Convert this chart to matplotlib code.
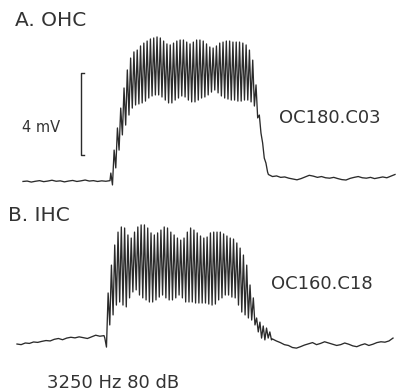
import numpy as np
import matplotlib
matplotlib.use('Agg')
import matplotlib.pyplot as plt

TONE_HZ = 3250
LEVEL_DB = 80

# ---- Trace A: outer hair cell (mV, relative to its resting baseline) ----
ohc_pre = [-0.12, -0.10, -0.15, -0.11, -0.08, -0.13, -0.10, -0.06, -0.11, -0.09, -0.14,
           -0.10, -0.07, -0.12, -0.09, -0.05, -0.10, -0.08, -0.12, -0.09, -0.11, -0.08]
ohc_peaks = [0.29, 1.41, 2.49, 3.46, 4.44, 5.32, 5.90, 6.20, 6.29, 6.49, 6.63, 6.73,
             6.83, 6.88, 6.93, 6.88, 6.73, 6.59, 6.54, 6.63, 6.73, 6.78, 6.78, 6.68,
             6.59, 6.68, 6.78, 6.78, 6.73, 6.59, 6.44, 6.39, 6.49, 6.63, 6.68, 6.73,
             6.73, 6.68, 6.68, 6.68, 6.63, 6.54, 6.29, 5.80, 4.59, 3.12, 1.76, 0.78]
ohc_troughs = [-0.29, 0.54, 1.41, 2.15, 2.63, 3.12, 3.46, 3.61, 3.66, 3.71, 3.80, 3.95,
               4.05, 4.10, 4.10, 4.00, 3.85, 3.71, 3.71, 3.85, 3.95, 4.05, 4.00, 3.85,
               3.76, 3.76, 3.85, 3.95, 4.00, 4.10, 4.24, 4.34, 4.20, 4.05, 3.95, 3.90,
               3.85, 3.85, 3.80, 3.80, 3.85, 3.85, 3.76, 3.56, 2.98, 2.24, 1.02, 0.34]
ohc_post = [0.22, 0.12, 0.15, 0.08, 0.10, 0.04, 0.00, -0.04, 0.02, 0.10, 0.18, 0.14,
            0.08, 0.12, 0.06, 0.04, 0.08, 0.02, -0.03, -0.05, 0.03, 0.08, 0.12, 0.06,
            0.04, 0.08, 0.02, 0.06, 0.10, 0.06, 0.14, 0.22]

# ---- Trace B: inner hair cell ----
ihc_pre = [-0.05, -0.08, 0.00, -0.02, 0.05, 0.03, 0.08, 0.12, 0.10, 0.18, 0.22,
           0.16, 0.24, 0.28, 0.25, 0.30, 0.26, 0.22, 0.30, 0.38, 0.33, 0.36]
ihc_peaks = [0.24, 2.44, 3.80, 4.78, 5.41, 5.66, 5.61, 5.27, 5.12, 5.41, 5.66, 5.76,
             5.76, 5.61, 5.37, 5.27, 5.37, 5.51, 5.66, 5.61, 5.41, 5.27, 5.12, 5.02,
             5.12, 5.41, 5.61, 5.51, 5.37, 5.22, 5.12, 5.17, 5.37, 5.41, 5.41, 5.41,
             5.32, 5.22, 5.12, 5.07, 4.88, 4.63, 4.29, 3.80, 2.83, 2.20, 1.22, 1.02,
             0.83, 0.73, 0.54]
ihc_troughs = [-0.20, 0.88, 1.37, 1.85, 2.00, 1.85, 1.76, 2.20, 2.49, 2.59, 2.34, 2.20,
               2.10, 2.00, 2.00, 2.10, 2.24, 2.34, 2.20, 2.10, 2.10, 2.20, 2.34, 2.20,
               2.00, 2.00, 2.00, 1.95, 1.95, 1.95, 1.95, 1.90, 1.85, 1.90, 2.10, 2.20,
               2.34, 2.34, 2.24, 2.20, 1.85, 1.51, 1.37, 1.22, 1.12, 0.88, 0.54, 0.24,
               0.15, 0.24, 0.15]
ihc_post = [0.20, 0.10, 0.02, -0.08, -0.12, -0.22, -0.25, -0.18, -0.10, -0.04, 0.02,
            -0.08, -0.02, 0.06, 0.00, -0.06, -0.12, -0.08, 0.00, -0.06, -0.14, -0.18,
            -0.10, -0.04, -0.12, -0.06, 0.02, 0.06, 0.04, 0.10, 0.24]

labels = {"A": "A. OHC", "B": "B. IHC"}
cell_ids = ["OC180.C03", "OC160.C18"]
stim_label = f"{TONE_HZ} Hz {LEVEL_DB} dB"
scale_label = "4 mV"
SCALE_MV = 4


def build(pre, peaks, troughs, post, t0, t_on, t_end):
    period = 1000.0 / TONE_HZ
    n = len(peaks)
    t_pre = np.linspace(t0, t_on, len(pre))
    idx = np.arange(n)
    t_tone = np.empty(2 * n)
    v_tone = np.empty(2 * n)
    t_tone[0::2] = t_on + (idx + 0.25) * period
    t_tone[1::2] = t_on + (idx + 0.75) * period
    v_tone[0::2] = peaks
    v_tone[1::2] = troughs
    t_post = np.linspace(t_on + n * period, t_end, len(post))
    t = np.concatenate([t_pre, t_tone, t_post])
    v = np.concatenate([pre, v_tone, post])
    return t, v


W, H = 399, 391
fig = plt.figure(figsize=(W / 100, H / 100), dpi=100)
fig.patch.set_facecolor('white')
ax = fig.add_axes([0, 0, 1, 1])
ax.set_axis_off()

MS_PER_PX = (1000.0 / TONE_HZ) / 3.3
PX_PER_MV = 20.5
ax.set_xlim(-23 * MS_PER_PX, (W - 23) * MS_PER_PX)
ax.set_ylim((179 - H) / PX_PER_MV, 179 / PX_PER_MV)

ink = '#2b2b2b'
t_a, v_a = build(ohc_pre, ohc_peaks, ohc_troughs, ohc_post,
                 0.0, 87 * MS_PER_PX, 372 * MS_PER_PX)
ax.plot(t_a, v_a, color=ink, lw=0.95)

ihc_offset = (179 - 343) / PX_PER_MV
t_b, v_b = build(ihc_pre, ihc_peaks, ihc_troughs, ihc_post,
                 -6 * MS_PER_PX, 81 * MS_PER_PX, 370 * MS_PER_PX)
ax.plot(t_b, v_b + ihc_offset, color=ink, lw=0.95)

# scale bar (bracket)
xb = 58 * MS_PER_PX
yb0 = (179 - 155) / PX_PER_MV
tick = 3 * MS_PER_PX
ax.plot([xb + tick, xb, xb, xb + tick], [yb0, yb0, yb0 + SCALE_MV, yb0 + SCALE_MV],
        color=ink, lw=1.0)

tc = '#333333'
def ftext(x, y, s, size, **kw):
    fig.text(x / W, 1 - y / H, s, fontsize=size, color=tc, va='center',
             family='DejaVu Sans', **kw)

ftext(15, 20, labels["A"], 14.5)
ftext(8, 216, labels["B"], 14.5)
ftext(22, 127, scale_label, 10.5)
ftext(279, 118, cell_ids[0], 13)
ftext(271, 284, cell_ids[1], 13)
ftext(47, 383, stim_label, 13)

fig.savefig('out.png', dpi=100, facecolor='white')
